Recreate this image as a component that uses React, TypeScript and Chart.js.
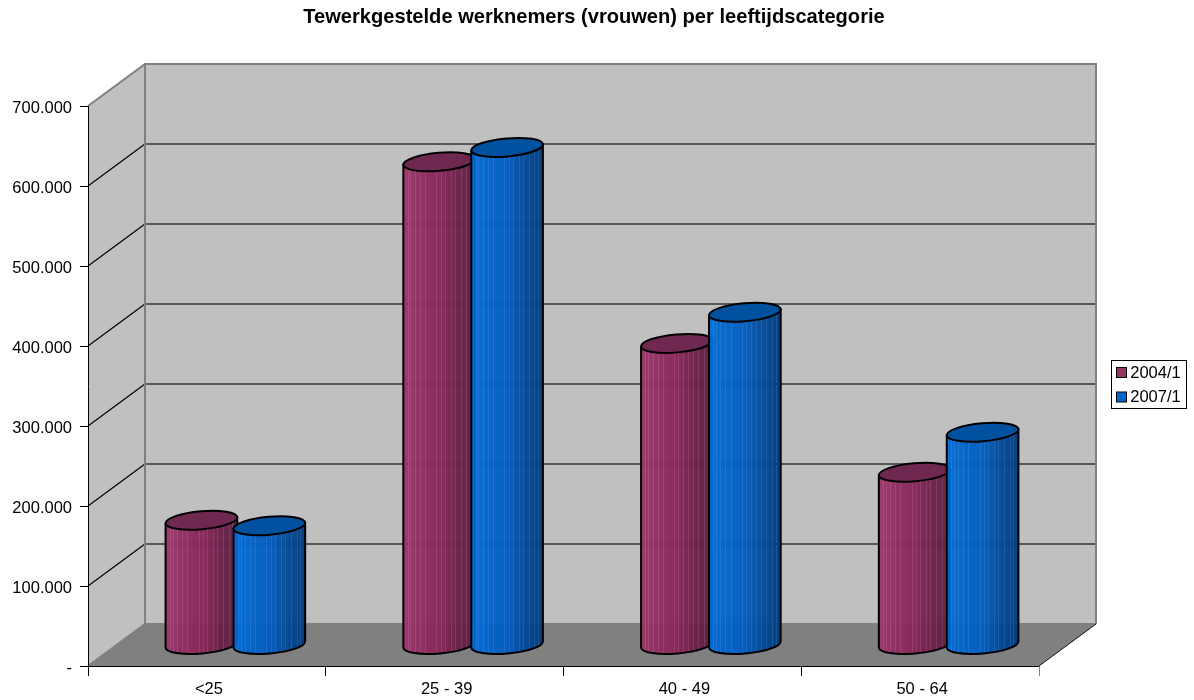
import React, { useEffect, useRef } from "react";
import { Chart, registerables } from "chart.js";

Chart.register(...registerables);

const categories = ["<25", "25 - 39", "40 - 49", "50 - 64"];
const series2004 = [156000, 604000, 377000, 216000];
const series2007 = [149000, 622000, 416000, 266000];
const seriesNames = ["2004/1", "2007/1"];
const seriesColors = ["#993366", "#0066cc"];
const titleText = "Tewerkgestelde werknemers (vrouwen) per leeftijdscategorie";
const FONT = "'Liberation Sans', Arial, sans-serif";

const DX = 57;
const DY = -42;
const WALL = "#c0c0c0";
const EDGE = "#808080";
const TILT = -5 * Math.PI / 180;
const stripes = [0.06, 0.1, 0.16, 0.23, 0.3, 0.46, 0.52, 0.58, 0.66, 0.72, 0.8, 0.88, 0.93];

const palettes = [
  { stops: ["#9e356c", "#8f2c60", "#872557", "#6c1f49", "#591d3f"], top: "#6f2850", stripe: "rgba(255,200,230,0.13)" },
  { stops: ["#006cd9", "#0062c8", "#005bc0", "#004896", "#00397d"], top: "#00519f", stripe: "rgba(170,215,255,0.13)" },
];

const scene = {
  id: "scene",
  beforeLayout(chart: any) {
    const l = chart.legend;
    if (!l.__wrapped) {
      const f = l.fit;
      l.fit = function () { f.call(this); this.width = 76; };
      l.__wrapped = true;
    }
  },
  afterLayout(chart: any) {
    const t = chart.titleBlock;
    t.left = 0; t.right = 1188; t.width = 1188;
    const l = chart.legend;
    l.left = 1111; l.top = 357; l.right = 1187; l.bottom = 417;
    l.width = 76; l.height = 60;
  },
  beforeDraw(chart: any) {
    const { ctx, chartArea: a } = chart;
    const y = chart.scales.y;
    ctx.save();
    ctx.fillStyle = WALL;
    ctx.fillRect(a.left + DX, a.top + DY, a.width, a.height);
    ctx.beginPath();
    ctx.moveTo(a.left, a.top); ctx.lineTo(a.left + DX, a.top + DY);
    ctx.lineTo(a.left + DX, a.bottom + DY); ctx.lineTo(a.left, a.bottom);
    ctx.closePath(); ctx.fill();
    ctx.fillStyle = EDGE;
    ctx.beginPath();
    ctx.moveTo(a.left, a.bottom); ctx.lineTo(a.left + DX, a.bottom + DY);
    ctx.lineTo(a.right + DX, a.bottom + DY); ctx.lineTo(a.right, a.bottom);
    ctx.closePath(); ctx.fill();

    y.ticks.forEach((tk: any) => {
      if (tk.value === 0 || tk.value === y.max) return;
      const py = y.getPixelForValue(tk.value);
      ctx.lineWidth = 1.2;
      ctx.strokeStyle = "#000";
      ctx.beginPath(); ctx.moveTo(a.left, py); ctx.lineTo(a.left + DX, py + DY); ctx.stroke();
      ctx.lineWidth = 1.5;
      ctx.strokeStyle = "#333333";
      ctx.beginPath(); ctx.moveTo(a.left + DX, py + DY); ctx.lineTo(a.right + DX, py + DY); ctx.stroke();
    });
    ctx.strokeStyle = EDGE;
    ctx.lineWidth = 2;
    ctx.beginPath();
    ctx.moveTo(a.left, a.top); ctx.lineTo(a.left + DX, a.top + DY);
    ctx.lineTo(a.right + DX, a.top + DY); ctx.lineTo(a.right + DX, a.bottom + DY);
    ctx.moveTo(a.left + DX, a.top + DY); ctx.lineTo(a.left + DX, a.bottom + DY);
    ctx.moveTo(a.left, a.bottom); ctx.lineTo(a.left + DX, a.bottom + DY);
    ctx.lineTo(a.right + DX, a.bottom + DY);
    ctx.stroke();
    ctx.strokeStyle = "#111";
    ctx.lineWidth = 1;
    ctx.beginPath();
    ctx.moveTo(a.right, a.bottom); ctx.lineTo(a.right + DX, a.bottom + DY);
    ctx.stroke();
    ctx.restore();
  },
  beforeDatasetsDraw(chart: any) {
    const { ctx } = chart;
    const count = chart.data.labels.length;
    for (let c = 0; c < count; c++) {
      chart.data.datasets.forEach((_: any, d: number) => {
        const el = chart.getDatasetMeta(d).data[c];
        drawCylinder(ctx, el.x + DX / 2, el.y + DY / 2, el.base + DY / 2, el.width / 2 + 2, palettes[d]);
      });
    }
    return false;
  },
  afterDraw(chart: any) {
    const { ctx, chartArea: a } = chart;
    ctx.save();
    ctx.strokeStyle = "#000";
    ctx.lineWidth = 1;
    ctx.strokeRect(1111.5, 360.5, 75, 48);
    chart.data.datasets.forEach((ds: any, i: number) => {
      ctx.fillStyle = ds.backgroundColor;
      ctx.fillRect(1116.5, 367.5 + i * 24.5, 10, 10);
      ctx.strokeRect(1116.5, 367.5 + i * 24.5, 10, 10);
    });
    ctx.strokeStyle = EDGE;
    ctx.beginPath();
    ctx.moveTo(a.right + 0.5, a.bottom); ctx.lineTo(a.right + 0.5, a.bottom + 10);
    ctx.stroke();
    ctx.restore();
  },
};

function drawCylinder(ctx: any, cx: number, topY: number, baseY: number, rx: number, p: any) {
  const ry = 9;
  const ex = rx * Math.cos(TILT);
  const ey = rx * Math.sin(TILT);
  const body = () => {
    ctx.beginPath();
    ctx.moveTo(cx - ex, topY - ey);
    ctx.lineTo(cx - ex, baseY - ey);
    ctx.ellipse(cx, baseY, rx, ry, TILT, Math.PI, 0, true);
    ctx.lineTo(cx + ex, topY + ey);
    ctx.closePath();
  };
  ctx.save();
  body();
  const g = ctx.createLinearGradient(cx - ex, 0, cx + ex, 0);
  p.stops.forEach((s: string, i: number) => g.addColorStop(i / (p.stops.length - 1), s));
  ctx.globalAlpha = 0.95;
  ctx.fillStyle = g;
  ctx.fill();
  ctx.globalAlpha = 1;
  ctx.clip();
  ctx.strokeStyle = p.stripe;
  ctx.lineWidth = 1;
  stripes.forEach((s) => {
    const x = Math.round(cx - ex + s * 2 * ex) + 0.5;
    ctx.beginPath(); ctx.moveTo(x, topY - 20); ctx.lineTo(x, baseY + 20); ctx.stroke();
  });
  ctx.restore();

  ctx.save();
  ctx.strokeStyle = "#000";
  ctx.lineWidth = 2;
  body();
  ctx.stroke();
  ctx.beginPath();
  ctx.ellipse(cx, topY, rx, ry, TILT, 0, Math.PI * 2);
  ctx.fillStyle = p.top;
  ctx.fill();
  ctx.stroke();
  ctx.restore();
}

export default function App() {
  const ref = useRef<HTMLCanvasElement>(null);
  useEffect(() => {
    document.body.style.margin = "0";
    const chart = new Chart(ref.current as any, {
      type: "bar",
      data: {
        labels: categories,
        datasets: [
          { label: seriesNames[0], data: series2004, backgroundColor: seriesColors[0], borderColor: "#000", borderWidth: 1, categoryPercentage: 136 / 238, barPercentage: 1 },
          { label: seriesNames[1], data: series2007, backgroundColor: seriesColors[1], borderColor: "#000", borderWidth: 1, categoryPercentage: 136 / 238, barPercentage: 1 },
        ],
      },
      options: {
        responsive: false,
        animation: false,
        layout: { padding: { left: 0, right: 79, top: 0, bottom: 0 } },
        plugins: {
          tooltip: { enabled: false },
          title: {
            display: true,
            text: titleText,
            color: "#000",
            font: { family: FONT, size: 20.1, weight: "bold" },
            padding: { top: 5, bottom: 76.9 },
          },
          legend: {
            position: "right",
            align: "start",
            labels: {
              color: "#000",
              font: { family: FONT, size: 16.5 },
              boxWidth: 3,
              boxHeight: 3,
              padding: 8,
            },
          },
        },
        scales: {
          x: {
            afterFit: (s: any) => { s.height = 34; },
            grid: { drawOnChartArea: false, color: "#000", tickLength: 10, tickColor: "#000" },
            border: { color: "#000", width: 1 },
            ticks: { color: "#000", font: { family: FONT, size: 16.5 }, padding: 4, labelOffset: 2, maxRotation: 0 },
          },
          y: {
            min: 0,
            max: 700000,
            afterFit: (s: any) => { s.width = 88; },
            grid: { drawOnChartArea: false, color: "#000", tickLength: 8, tickColor: "#000" },
            border: { color: "#000", width: 1 },
            ticks: {
              stepSize: 100000,
              color: "#000",
              font: { family: FONT, size: 16.5 },
              padding: 8,
              labelOffset: 2,
              callback: (v: any) => (v === 0 ? "-" : Number(v).toLocaleString("de-DE")),
            },
          },
        },
      },
      plugins: [scene],
    } as any);
    return () => chart.destroy();
  }, []);
  return <canvas ref={ref} width={1194} height={700} style={{ display: "block" }} />;
}
